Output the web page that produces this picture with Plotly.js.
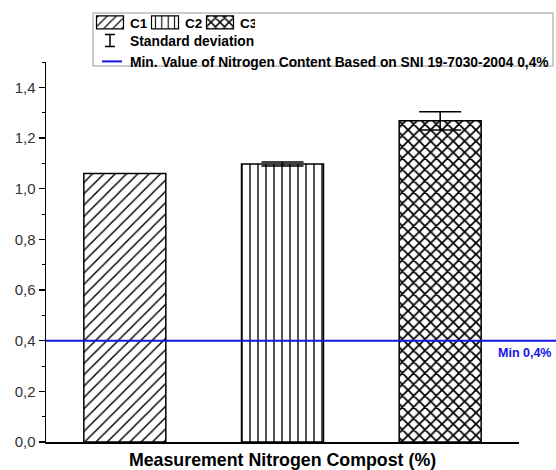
<!DOCTYPE html>
<html>
<head>
<meta charset="utf-8">
<script src="https://cdn.plot.ly/plotly-3.0.1.min.js"></script>
<style>html,body{margin:0;padding:0;background:#fff;}#chart{width:556px;height:470px;}</style>
</head>
<body>
<div id="chart"></div>
<script>
// ---- data ----
const categories = ["C1", "C2", "C3"];
const nitrogenValues = [1.06, 1.097, 1.268];
const stdDeviation = [null, 0.008, 0.036];
const minValue = 0.4;
const minLabel = "Min 0,4%";
const legendSD = "Standard deviation";
const legendMin = "Min. Value of Nitrogen Content Based on SNI 19-7030-2004 0,4%";
const yTickVals = [0, 0.2, 0.4, 0.6, 0.8, 1.0, 1.2, 1.4];
const xTitle = "Measurement Nitrogen Compost (%)";

const patterns = [
  {shape: "/", size: 8, solidity: 0.18},
  {shape: "|", size: 8, solidity: 0.17},
  {shape: "x", size: 8, solidity: 0.4}
];

const FONT = "Liberation Sans, Arial, sans-serif";
const BLUE = "rgb(20,20,230)";

const traces = categories.map((c, i) => ({
  type: "bar",
  x: [c],
  y: [nitrogenValues[i]],
  name: c,
  width: 0.52,
  legend: "legend",
  marker: {
    color: "white",
    line: {color: "black", width: 1.5},
    pattern: Object.assign({fgcolor: "black", bgcolor: "white", fillmode: "replace"}, patterns[i])
  },
  error_y: {
    type: "data",
    array: [stdDeviation[i]],
    visible: stdDeviation[i] !== null,
    color: "black",
    thickness: 1.5,
    width: 21
  }
}));

traces.push({
  type: "scatter",
  mode: "markers",
  x: [null], y: [null],
  name: legendSD,
  legend: "legend2",
  marker: {symbol: "line-ns-open", size: 11, color: "black", line: {color: "black", width: 1.5}}
});
traces.push({
  type: "scatter",
  mode: "lines",
  x: [null], y: [null],
  name: legendMin,
  legend: "legend2",
  line: {color: BLUE, width: 2}
});

const px = v => (v - 46) / 473;      // pixel x -> paper
const py = v => (442 - v) / 380;     // pixel y -> paper

const layout = {
  width: 556,
  height: 470,
  margin: {l: 46, r: 37, t: 62, b: 28, autoexpand: false},
  paper_bgcolor: "white",
  plot_bgcolor: "white",
  separators: ",.",
  font: {family: FONT, color: "#222"},
  barmode: "overlay",
  showlegend: true,
  xaxis: {
    type: "category",
    range: [-0.5, 2.5],
    automargin: false,
    showticklabels: false,
    ticks: "",
    showline: true,
    linecolor: "black",
    linewidth: 1.5,
    showgrid: false,
    zeroline: false,
    title: {text: xTitle, font: {family: FONT, size: 17.8, color: "black", weight: "bold"}, standoff: 11}
  },
  yaxis: {
    range: [0, 1.5],
    automargin: false,
    tickvals: yTickVals,
    tickformat: ".1f",
    ticks: "outside",
    ticklen: 6,
    tickwidth: 1.2,
    tickcolor: "black",
    tickfont: {family: FONT, size: 15, color: "#333"},
    showline: true,
    linecolor: "black",
    linewidth: 1.5,
    showgrid: false,
    zeroline: false,
    minor: {dtick: 0.1, ticks: "outside", ticklen: 3, tickwidth: 1, tickcolor: "black", showgrid: false}
  },
  legend: {
    orientation: "h",
    x: px(90), xanchor: "left",
    y: py(7), yanchor: "top",
    bgcolor: "rgba(0,0,0,0)",
    borderwidth: 0,
    entrywidth: 10,
    entrywidthmode: "pixels",
    font: {family: FONT, size: 13.5, color: "black", weight: "bold"},
    traceorder: "normal"
  },
  legend2: {
    orientation: "v",
    x: px(90), xanchor: "left",
    y: py(25), yanchor: "top",
    bgcolor: "rgba(0,0,0,0)",
    borderwidth: 0,
    tracegroupgap: 0,
    font: {family: FONT, size: 13.8, color: "black", weight: "bold"},
    traceorder: "normal"
  },
  shapes: [
    {type: "rect", xref: "paper", yref: "paper",
     x0: px(93), x1: px(553), y0: py(66), y1: py(13),
     line: {color: "#999", width: 1}, fillcolor: "rgba(0,0,0,0)", layer: "above"},
    {type: "line", xref: "paper", yref: "y",
     x0: 0, x1: px(556), y0: minValue, y1: minValue,
     line: {color: BLUE, width: 2}, layer: "above"}
  ],
  annotations: [
    {xref: "paper", yref: "y", x: px(554), y: minValue, xanchor: "right", yanchor: "top",
     yshift: -3, text: minLabel, showarrow: false,
     font: {family: FONT, size: 12.5, color: BLUE, weight: "bold"}}
  ]
};

Plotly.newPlot("chart", traces, layout, {displayModeBar: false, staticPlot: true}).then(gd => {
  // widen bar swatches in the first legend to match the wide hatched boxes
  gd.querySelectorAll(".legendpoints .legendbar path, .legendpoints path.legendundefined").forEach(p => {
    p.setAttribute("d", "M-13.5,6.5H13.5V-6.5H-13.5Z");
    p.style.strokeWidth = "1.2px";
  });
  // turn the vertical-line marker into an I-beam (standard deviation symbol)
  gd.querySelectorAll(".legendpoints path.scatterpts").forEach(p => {
    p.setAttribute("d", "M-5,6H5M0,6V-6M-5,-6H5");
  });
  // shorter legend line sample
  gd.querySelectorAll(".legendlines path").forEach(p => {
    p.setAttribute("d", "M12,0h20");
  });
});
</script>
</body>
</html>
